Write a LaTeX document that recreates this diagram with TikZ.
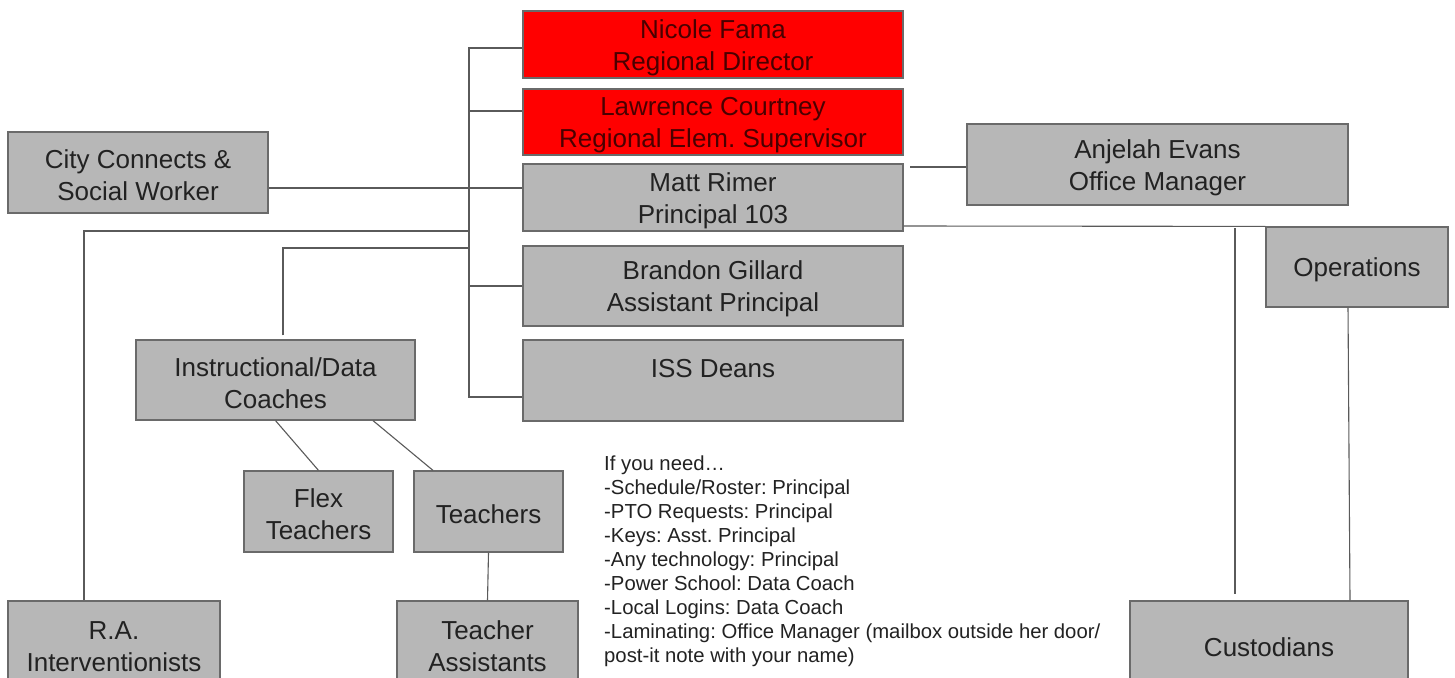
\documentclass[tikz,border=0pt]{standalone}
\usepackage{fontspec}
\setmainfont{Liberation Sans}
\definecolor{boxgray}{HTML}{B7B7B7}
\definecolor{boxedge}{HTML}{6A6A6A}
\definecolor{redfill}{HTML}{FF0000}
\definecolor{redtext}{HTML}{4A0000}
\definecolor{inktext}{HTML}{222222}
\definecolor{linecol}{HTML}{5A5A5A}
\newcommand\tstrut{\rule{0pt}{25pt}}
\frenchspacing
\begin{document}
\begin{tikzpicture}[x=1pt,y=-1pt,
  gbox/.style={draw=boxedge,line width=1.2pt,fill=boxgray,text=inktext,align=center,
    inner sep=0pt,font=\fontsize{26}{32}\selectfont},
  rbox/.style={gbox,fill=redfill,text=redtext},
  conn/.style={draw=linecol,line width=1.1pt}]
\useasboundingbox (0,0) rectangle (1455,677);
\clip (0,0) rectangle (1455,677);
\fill[white] (0,0) rectangle (1455,677);

% boxes
\node[rbox,minimum width=380,minimum height=67] (nicole) at (713,44.5) {\tstrut Nicole Fama\\Regional Director};
\node[rbox,minimum width=380,minimum height=66] (lawrence) at (713,122) {\tstrut Lawrence Courtney\\Regional Elem. Supervisor};
\node[gbox,minimum width=380,minimum height=67] (matt) at (713,197.5) {\tstrut Matt Rimer\\Principal 103};
\node[gbox,minimum width=380,minimum height=80] (brandon) at (713,286) {\tstrut Brandon Gillard\\Assistant Principal};
\node[gbox,minimum width=380,minimum height=81] (iss) at (713,380.5) {\tstrut ISS Deans\\~};
\node[gbox,minimum width=260,minimum height=81] (city) at (138,172.5) {\tstrut City Connects \&\\Social Worker};
\node[gbox,minimum width=381,minimum height=81] (anjelah) at (1157.5,164.5) {\tstrut Anjelah Evans\\Office Manager};
\node[gbox,minimum width=182,minimum height=80] (ops) at (1357,267) {\tstrut Operations};
\node[gbox,minimum width=279,minimum height=80] (inst) at (275.5,380) {\tstrut Instructional/Data\\Coaches};
\node[gbox,minimum width=149,minimum height=81] (flex) at (318.5,511.5) {\tstrut Flex\\Teachers};
\node[gbox,minimum width=149,minimum height=81] (teachers) at (488.5,511.5) {\tstrut Teachers};
\node[gbox,minimum width=181,minimum height=84] (ta) at (487.5,643) {\tstrut Teacher\\Assistants};
\node[gbox,minimum width=212,minimum height=84] (ra) at (114,643) {\tstrut R.A.\\Interventionists};
\node[gbox,minimum width=278,minimum height=86] (cust) at (1269,644) {\tstrut Custodians};

% note
\node[anchor=north west,align=left,inner sep=0pt,text=inktext,
  font=\fontsize{20.3}{24}\selectfont] (note) at (604,456)
  {If you need…\\-Schedule/Roster: Principal\\-PTO Requests: Principal\\-Keys: Asst. Principal\\-Any technology: Principal\\-Power School: Data Coach\\-Local Logins: Data Coach\\-Laminating: Office Manager (mailbox outside her door/\\post-it note with your name)};

% spine
\coordinate (spT) at (469,48);
\coordinate (spB) at (469,397);
\draw[conn] ([yshift=-3.5pt]nicole.west) -- (spT) -- (spB) -- (spB -| iss.west);
\draw[conn] (lawrence.west |- 0,111) -- (spT |- 0,111);
\draw[conn] (brandon.west) -- (brandon.west -| spT);
\coordinate (cl) at (city.east |- 0,188);
\draw[conn] (cl) -- (cl -| matt.west);
\coordinate (raT) at (84,231);
\draw[conn] (ra.north -| raT) -- (raT) -- (raT -| spT);
\coordinate (inT) at (283,248);
\draw[conn] ([yshift=4pt]inst.north -| inT) -- (inT) -- (inT -| spT);
% coaches
\draw[conn] (inst.south) -- (flex.north);
\draw[conn] ([xshift=97.5pt]inst.south) -- ([xshift=-55.5pt]teachers.north);
\draw[conn] (teachers.south) -- (ta.north);
% right side
\coordinate (ma) at (910,167);
\draw[conn] (ma) -- (ma -| anjelah.west);
\coordinate (mo) at (matt.east |- 0,226);
\draw[conn] (mo) -- (ops.north west);
\coordinate (cv) at (1235,228);
\draw[conn] (cv) -- ([yshift=6pt]cv |- cust.north);
\draw[conn] ([xshift=-9pt]ops.south) -- ([xshift=81pt]cust.north);
\end{tikzpicture}
\end{document}
